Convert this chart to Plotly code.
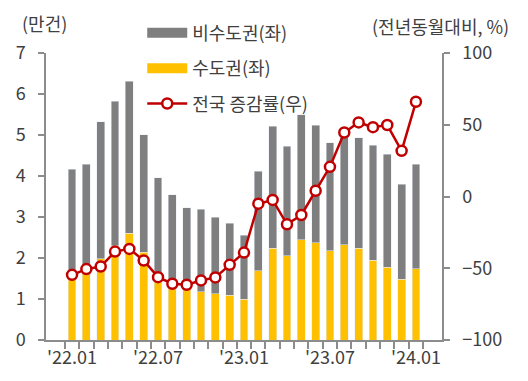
import plotly.graph_objects as go

months = ["'22.01", "'22.02", "'22.03", "'22.04", "'22.05", "'22.06", "'22.07", "'22.08",
          "'22.09", "'22.10", "'22.11", "'22.12", "'23.01", "'23.02", "'23.03", "'23.04",
          "'23.05", "'23.06", "'23.07", "'23.08", "'23.09", "'23.10", "'23.11", "'23.12", "'24.01"]
total = [4.16, 4.29, 5.32, 5.82, 6.31, 5.01, 3.96, 3.54, 3.23, 3.19, 2.99, 2.85, 2.55,
         4.11, 5.21, 4.73, 5.50, 5.24, 4.81, 4.95, 4.93, 4.75, 4.53, 3.80, 4.29]
capital = [1.50, 1.65, 1.98, 2.30, 2.60, 2.14, 1.42, 1.30, 1.25, 1.18, 1.13, 1.09, 1.00,
           1.69, 2.24, 2.06, 2.44, 2.37, 2.18, 2.32, 2.24, 1.95, 1.77, 1.48, 1.74]
noncapital = [round(t - c, 2) for t, c in zip(total, capital)]
growth = [-54.6, -50.6, -48.8, -38.4, -36.5, -44.6, -56.2, -60.8, -61.5, -58.5, -56.4, -47.6,
          -39.1, -5.0, -2.4, -19.4, -12.9, 4.0, 20.7, 44.6, 51.6, 48.3, 49.8, 31.8, 66.0]
tick_text = [m if i % 6 == 0 else "" for i, m in enumerate(months)]

GRAY = "#7f7f7f"
YELLOW = "#ffc000"
RED = "#c00000"
FONT = "Noto Sans CJK KR"
TXT = "#404040"
AX = "#8c8c8c"

fig = go.Figure()
fig.add_trace(go.Bar(x=months, y=capital, marker_color=YELLOW, showlegend=False, name="수도권(좌)"))
fig.add_trace(go.Bar(x=months, y=noncapital, marker_color=GRAY, showlegend=False, name="비수도권(좌)"))
fig.add_trace(go.Scatter(x=months, y=growth, yaxis="y2", mode="lines+markers",
                         line=dict(color=RED, width=2.5),
                         marker=dict(size=10, color="white", line=dict(color=RED, width=2.5)),
                         showlegend=False, name="전국 증감률(우)"))
# legend entries
fig.add_trace(go.Scatter(x=[None], y=[None], mode="lines", line=dict(color=GRAY, width=10),
                         name="비수도권(좌)", legendgroup="a"))
fig.add_trace(go.Scatter(x=[None], y=[None], mode="lines", line=dict(color=YELLOW, width=10),
                         name="수도권(좌)", legendgroup="b"))
fig.add_trace(go.Scatter(x=[None], y=[None], mode="lines+markers", line=dict(color=RED, width=2.5),
                         marker=dict(size=10, color="white", line=dict(color=RED, width=2.5)),
                         name="전국 증감률(우)", legendgroup="c"))

fig.update_layout(
    width=520, height=373,
    margin=dict(l=38, r=86, t=45, b=41, autoexpand=False),
    barmode="stack", bargap=0.45,
    plot_bgcolor="white", paper_bgcolor="white",
    font=dict(family=FONT, size=18, color=TXT),
    legend=dict(x=0.243, y=1.134, xanchor="left", yanchor="top", traceorder="grouped",
                tracegroupgap=9, bgcolor="rgba(0,0,0,0)", font=dict(size=18, color=TXT),
                itemwidth=40),
    xaxis=dict(type="category", tickmode="array", tickvals=months, ticktext=tick_text,
               tickson="boundaries", ticks="outside", ticklen=7, tickcolor=AX, tickwidth=1.5,
               showline=True, linecolor=AX, linewidth=1.5, showgrid=False, tickangle=0,
               tickfont=dict(size=18, color=TXT), automargin=False, ticklabelstandoff=1),
    yaxis=dict(range=[0, 7], dtick=1, ticks="outside", ticklen=6, tickcolor=AX, tickwidth=1.5,
               showline=True, linecolor=AX, linewidth=1.5, showgrid=False, zeroline=False,
               tickfont=dict(size=18, color=TXT), automargin=False, ticklabelstandoff=9),
    yaxis2=dict(range=[-100, 100], dtick=50, overlaying="y", side="right", ticks="outside",
                ticklen=6, tickcolor=AX, tickwidth=1.5, showline=True, linecolor=AX, linewidth=1.5,
                showgrid=False, zeroline=False, tickfont=dict(size=18, color=TXT), automargin=False,
                ticklabelstandoff=9),
    annotations=[
        dict(text="(만건)", xref="paper", yref="paper", x=-0.005, y=1.105, xanchor="center",
             yanchor="middle", showarrow=False, font=dict(size=18, color=TXT)),
        dict(text="(전년동월대비, %)", xref="paper", yref="paper", x=0.995, y=1.093, xanchor="center",
             yanchor="middle", showarrow=False, font=dict(size=18, color=TXT)),
    ],
)

fig.write_html("out.html")
